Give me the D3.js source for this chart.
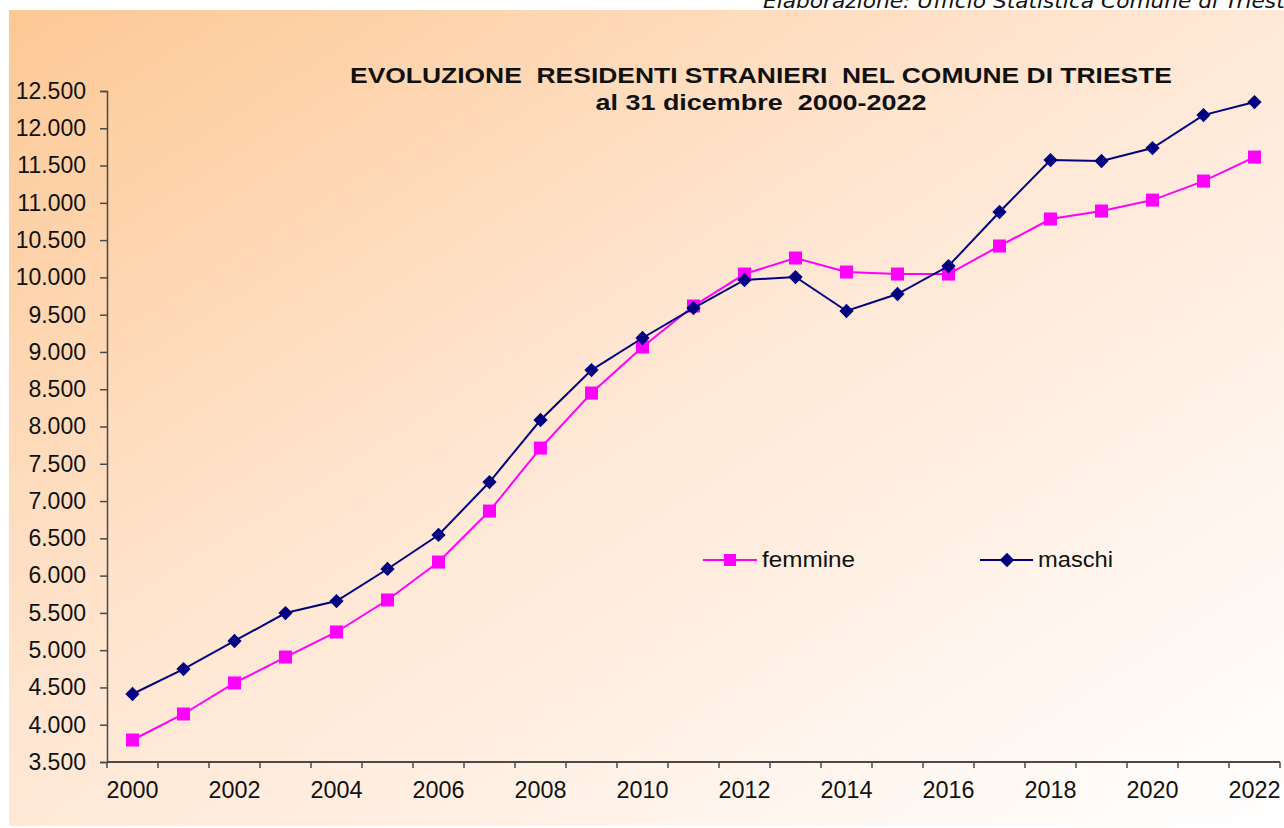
<!DOCTYPE html>
<meta charset="utf-8">
<html>
<head>
<script src="https://d3js.org/d3.v7.min.js"></script>
<style>
  body { margin: 0; background: #fff; }
  svg { display: block; }
  text { font-family: "Liberation Sans", Arial, sans-serif; fill: #111; }
</style>
</head>
<body>
<svg></svg>
<script>
  // data (residenti stranieri al 31/12)
  var years = d3.range(2000, 2023);
  var femmine = [3795, 4144, 4560, 4908, 5244, 5673, 6182, 6866, 7711, 8449, 9066, 9616,
                 10045, 10260, 10072, 10045, 10045, 10421, 10783, 10890, 11037, 11292, 11614];
  var maschi  = [4412, 4747, 5123, 5498, 5659, 6089, 6545, 7255, 8087, 8757, 9187, 9589,
                 9965, 10005, 9549, 9777, 10152, 10877, 11574, 11561, 11735, 12177, 12352];
  var yTicks = d3.range(3500, 12501, 500);

  var width = 1284, height = 828;
  var svg = d3.select('svg').attr('width', width).attr('height', height);

  // background gradient, peach top-left fading to white
  var defs = svg.append('defs');
  var grad = defs.append('linearGradient').attr('id', 'bg')
      .attr('x1', '0%').attr('y1', '0%').attr('x2', '100%').attr('y2', '100%');
  grad.append('stop').attr('offset', '0%').attr('stop-color', '#fdc894');
  grad.append('stop').attr('offset', '45%').attr('stop-color', '#ffe6d2');
  grad.append('stop').attr('offset', '100%').attr('stop-color', '#ffffff');
  svg.append('rect').attr('x', 9).attr('y', 10).attr('width', width - 9).attr('height', 816)
      .attr('fill', 'url(#bg)');

  // credit line, cut off at the top as in the original
  svg.append('text').attr('x', 763).attr('y', 8)
      .style('font-family', '"DejaVu Sans", Verdana, sans-serif')
      .style('font-style', 'italic').style('font-size', '19px')
      .attr('textLength', 535).attr('lengthAdjust', 'spacingAndGlyphs')
      .text('Elaborazione: Ufficio Statistica Comune di Trieste');

  var x = d3.scaleBand().domain(years).range([107, 1280]);
  var y = d3.scaleLinear().domain([3500, 12500]).range([762, 91]);

  var it = d3.formatLocale({decimal: ',', thousands: '.', grouping: [3], currency: ['€', '']});

  // y axis
  var yAxis = svg.append('g').attr('transform', 'translate(107,0)')
      .call(d3.axisLeft(y).tickValues(yTicks).tickFormat(it.format(',')).tickSize(7).tickPadding(14));
  yAxis.selectAll('path, line').attr('stroke', '#4a4a4a').attr('stroke-width', 1.5);
  yAxis.selectAll('text').style('font-size', '23px').attr('fill', '#111');

  // x axis: category axis, ticks between categories
  var xg = svg.append('g');
  xg.append('line').attr('x1', 107).attr('x2', 1280).attr('y1', y(3500)).attr('y2', y(3500))
      .attr('stroke', '#4a4a4a').attr('stroke-width', 2);
  xg.selectAll('.tk').data(years.concat([2023])).enter().append('line')
      .attr('x1', function(d) { return d === 2023 ? 1280 : x(d); })
      .attr('x2', function(d) { return d === 2023 ? 1280 : x(d); })
      .attr('y1', 762).attr('y2', 768)
      .attr('stroke', '#4a4a4a').attr('stroke-width', 1.5);
  xg.selectAll('.lb').data(years.filter(function(d) { return d % 2 === 0; })).enter().append('text')
      .attr('x', function(d) { return x(d) + x.bandwidth() / 2; })
      .attr('y', 798).attr('text-anchor', 'middle').style('font-size', '23px')
      .attr('textLength', 52).attr('lengthAdjust', 'spacingAndGlyphs')
      .text(function(d) { return d; });

  // title (stretched wide, as in the original)
  svg.append('text').attr('x', 761).attr('y', 83).attr('text-anchor', 'middle')
      .style('font-weight', 'bold').style('font-size', '22px')
      .attr('xml:space', 'preserve')
      .attr('textLength', 822).attr('lengthAdjust', 'spacingAndGlyphs')
      .text('EVOLUZIONE  RESIDENTI STRANIERI  NEL COMUNE DI TRIESTE');
  svg.append('text').attr('x', 761).attr('y', 110).attr('text-anchor', 'middle')
      .style('font-weight', 'bold').style('font-size', '22px')
      .attr('xml:space', 'preserve')
      .attr('textLength', 331).attr('lengthAdjust', 'spacingAndGlyphs')
      .text('al 31 dicembre  2000-2022');

  var cx = function(d, i) { return x(years[i]) + x.bandwidth() / 2; };
  var line = d3.line().x(cx).y(function(d) { return y(d); });

  // femmine
  svg.append('path').datum(femmine).attr('d', line)
      .attr('fill', 'none').attr('stroke', '#ff00ff').attr('stroke-width', 2);
  svg.selectAll('.sq').data(femmine).enter().append('rect')
      .attr('x', function(d, i) { return cx(d, i) - 6.5; })
      .attr('y', function(d) { return y(d) - 6.5; })
      .attr('width', 13).attr('height', 13).attr('fill', '#ff00ff');

  // maschi
  var diamond = d3.symbol().type(d3.symbolDiamond2).size(130);
  svg.append('path').datum(maschi).attr('d', line)
      .attr('fill', 'none').attr('stroke', '#000080').attr('stroke-width', 2);
  svg.selectAll('.dm').data(maschi).enter().append('path')
      .attr('d', diamond)
      .attr('transform', function(d, i) { return 'translate(' + cx(d, i) + ',' + y(d) + ')'; })
      .attr('fill', '#000080');

  // legend
  var lg = svg.append('g');
  lg.append('line').attr('x1', 703).attr('x2', 757).attr('y1', 560).attr('y2', 560)
      .attr('stroke', '#ff00ff').attr('stroke-width', 2);
  lg.append('rect').attr('x', 724).attr('y', 554).attr('width', 12).attr('height', 12).attr('fill', '#ff00ff');
  lg.append('text').attr('x', 762).attr('y', 567).style('font-size', '22px')
      .attr('textLength', 93).attr('lengthAdjust', 'spacingAndGlyphs').text('femmine');
  lg.append('line').attr('x1', 980).attr('x2', 1033).attr('y1', 560).attr('y2', 560)
      .attr('stroke', '#000080').attr('stroke-width', 2);
  lg.append('path').attr('d', diamond).attr('transform', 'translate(1007,560)').attr('fill', '#000080');
  lg.append('text').attr('x', 1038).attr('y', 567).style('font-size', '22px')
      .attr('textLength', 75).attr('lengthAdjust', 'spacingAndGlyphs').text('maschi');
</script>
</body>
</html>
